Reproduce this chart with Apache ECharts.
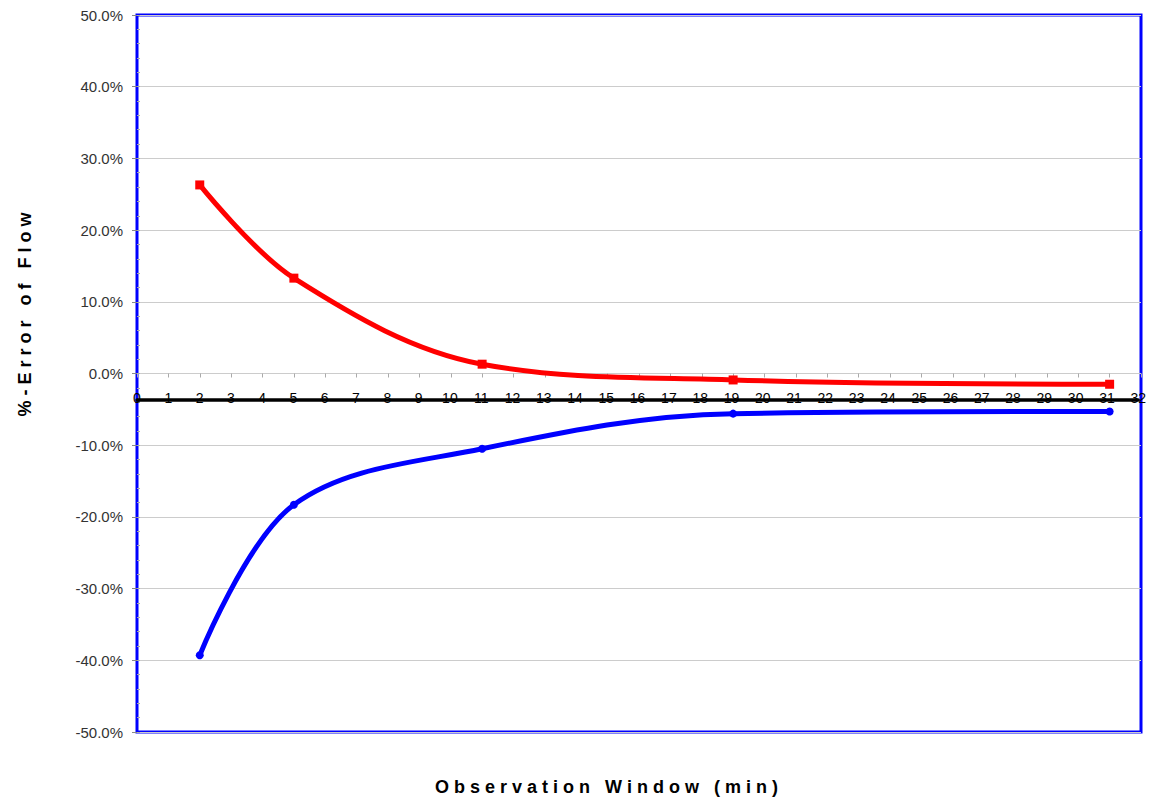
<!DOCTYPE html>
<html>
<head>
<meta charset="utf-8">
<script src="https://cdn.jsdelivr.net/npm/echarts@6/dist/echarts.min.js"></script>
<style>
html, body { margin: 0; padding: 0; background: #ffffff; }
#chart { width: 1149px; height: 803px; }
#chart svg text[style*="bold"] { letter-spacing: 5px; }
</style>
</head>
<body>
<div id="chart"></div>
<script>
// ---- data ----
const windowMinutes = [2, 5, 11, 19, 31];
const upperError = [26.3, 13.3, 1.3, -0.9, -1.5];     // red, square markers (%)
const lowerError = [-39.3, -18.3, -10.5, -5.6, -5.3]; // blue, circle markers (%)
const xRange = [0, 32];
const yRange = [-50, 50];
const xTitle = 'Observation Window (min)';
const yTitle = '%-Error of Flow';

const FONT = 'Liberation Sans, Arial, Helvetica, sans-serif';

function pairs(xs, ys) { return xs.map((x, i) => [x, ys[i]]); }

const chart = echarts.init(document.getElementById('chart'), null, { renderer: 'svg' });

chart.setOption({
  backgroundColor: '#ffffff',
  animation: false,
  grid: [
    {
      left: 137, right: 8, top: 15, bottom: 71,
      show: true,
      borderColor: '#0000ff',
      borderWidth: 3,
      backgroundColor: '#ffffff'
    },
    {
      // helper grid whose bottom edge is where the black category line crosses
      left: 137, right: 8, top: 15, height: 385,
      show: false
    }
  ],
  xAxis: [
    {
      gridIndex: 0,
      type: 'value',
      position: 'bottom',
      min: xRange[0], max: xRange[1], interval: 1,
      show: false
    },
    {
      gridIndex: 0,
      type: 'value',
      position: 'top',
      min: xRange[0], max: xRange[1], interval: 1,
      axisLine: { show: false, onZero: true, onZeroAxisIndex: 0 },
      axisTick: { show: true, inside: true, length: 4, lineStyle: { color: '#aaaaaa', width: 1 } },
      axisLabel: { show: false },
      splitLine: { show: false }
    },
    {
      gridIndex: 1,
      type: 'value',
      position: 'bottom',
      min: xRange[0], max: xRange[1], interval: 1,
      axisLine: { show: true, onZero: false, lineStyle: { color: '#000000', width: 3.5 } },
      axisTick: { show: false },
      axisLabel: { show: true, margin: -9, fontSize: 14, color: '#000000', fontFamily: FONT, showMinLabel: true, showMaxLabel: true },
      splitLine: { show: false },
      z: 5
    }
  ],
  yAxis: [
    {
      gridIndex: 0,
      type: 'value',
      position: 'left',
      min: yRange[0], max: yRange[1], interval: 10,
      axisLine: { show: false },
      axisTick: { show: true, length: 5, lineStyle: { color: '#888888' } },
      axisLabel: {
        margin: 14, fontSize: 15, color: '#333333', fontFamily: FONT,
        formatter: v => v.toFixed(1) + '%'
      },
      splitLine: { show: true, lineStyle: { color: '#cccccc', width: 1 } }
    },
    {
      gridIndex: 0,
      type: 'value',
      position: 'left',
      min: yRange[0], max: yRange[1], interval: 2,
      axisLine: { show: false },
      axisTick: { show: true, inside: true, length: 3, lineStyle: { color: '#aaaaaa' } },
      axisLabel: { show: false },
      splitLine: { show: false }
    },
    {
      gridIndex: 1,
      type: 'value',
      min: 0, max: 1,
      show: false
    }
  ],
  series: [
    {
      name: 'Upper',
      type: 'line',
      xAxisIndex: 0, yAxisIndex: 0,
      data: pairs(windowMinutes, upperError),
      smooth: 0.35,
      symbol: 'rect',
      symbolSize: 9,
      showSymbol: true,
      lineStyle: { color: '#ff0000', width: 5 },
      itemStyle: { color: '#ff0000' },
      z: 6
    },
    {
      name: 'Lower',
      type: 'line',
      xAxisIndex: 0, yAxisIndex: 0,
      data: pairs(windowMinutes, lowerError),
      smooth: 0.35,
      symbol: 'circle',
      symbolSize: 8,
      showSymbol: true,
      lineStyle: { color: '#0000ff', width: 5 },
      itemStyle: { color: '#0000ff' },
      z: 6
    }
  ],
  graphic: [
    {
      type: 'text',
      x: 609, y: 787,
      style: {
        text: xTitle,
        x: 0, y: 0,
        align: 'center', verticalAlign: 'middle',
        fontSize: 18, fontWeight: 'bold', fontFamily: FONT, fill: '#000000'
      }
    },
    {
      type: 'text',
      x: 25, y: 312,
      rotation: Math.PI / 2,
      style: {
        text: yTitle,
        x: 0, y: 0,
        align: 'center', verticalAlign: 'middle',
        fontSize: 18, fontWeight: 'bold', fontFamily: FONT, fill: '#000000'
      }
    }
  ]
});
</script>
</body>
</html>
